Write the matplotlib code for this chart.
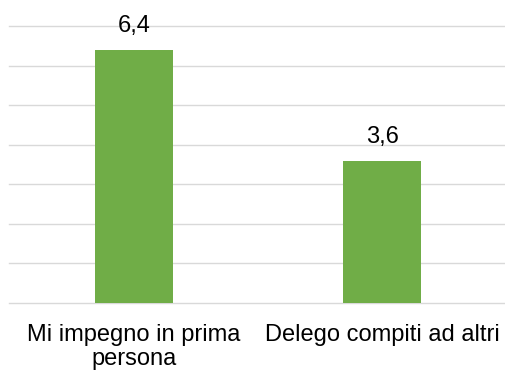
import matplotlib
matplotlib.use("Agg")
import matplotlib.pyplot as plt

categories = ["Mi impegno in prima\npersona", "Delego compiti ad altri"]
values = [6.4, 3.6]
value_labels = ["6,4", "3,6"]

plt.rcParams["font.family"] = ["Liberation Sans", "DejaVu Sans"]

W, H = 506, 371
fig = plt.figure(figsize=(W / 100, H / 100), dpi=100)
left, right = 9.5, 506.5
bottom, top = 303, 26
ax = fig.add_axes([left / W, (H - bottom) / H, (right - left) / W, (bottom - top) / H])

x = list(range(len(categories)))
bars = ax.bar(x, values, width=0.315, color="#70ad47", zorder=3)

ax.set_xlim(-0.5, len(categories) - 0.5)
ax.set_ylim(0, 7)
ax.set_yticks(range(0, 8))
ax.yaxis.grid(True, color="#d9d9d9", linewidth=1.0, zorder=0)
for gl in ax.get_ygridlines():
    gl.set_clip_on(False)
ax.tick_params(axis="y", left=False, labelleft=False)
ax.tick_params(axis="x", length=0, pad=15, labelsize=17)
ax.set_xticks(x)
ax.set_xticklabels(categories, linespacing=1.1, multialignment="center")
for s in ax.spines.values():
    s.set_visible(False)

for xi, v, lab in zip(x, values, value_labels):
    ax.annotate(lab, (xi, v), xytext=(0, 13), textcoords="offset pixels",
                ha="center", va="bottom", fontsize=17, color="#000000")

fig.savefig("out.png", dpi=100)
